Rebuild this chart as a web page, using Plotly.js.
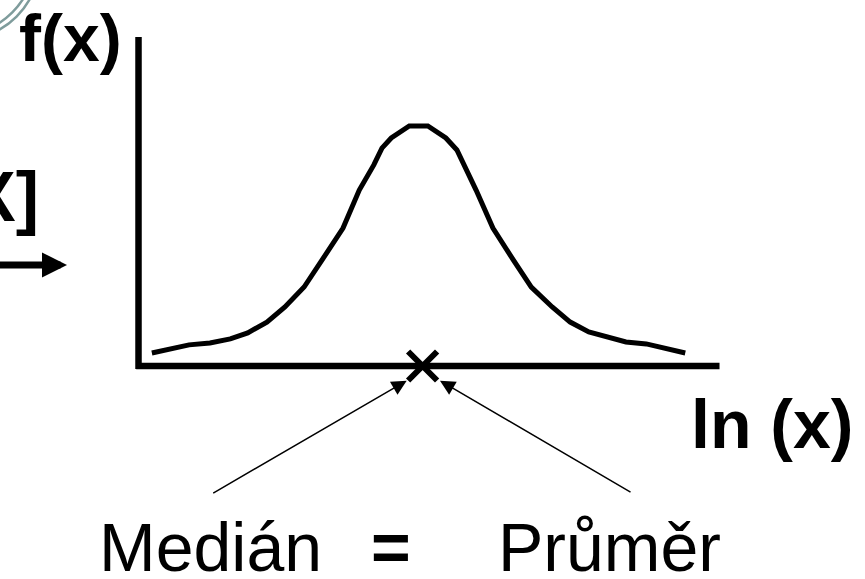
<!DOCTYPE html>
<html>
<head>
<meta charset="utf-8">
<script src="https://cdn.plot.ly/plotly-3.0.1.min.js"></script>
<style>html,body{margin:0;padding:0;background:#fff;}#chart{width:865px;height:579px;}</style>
</head>
<body>
<div id="chart"></div>
<script>
// ln(x) positions along the horizontal axis and density values f(x) (peak = 1)
var lnX = [0.23, 0.87, 1.23, 1.58, 1.88, 2.21, 2.52, 2.85, 3.16, 3.52, 3.80, 4.05, 4.19, 4.35, 4.66,
           4.83, 4.98, 5.29, 5.48, 5.81, 6.10, 6.45, 6.76, 7.12, 7.43, 7.75, 8.10, 8.39, 8.74, 9.41];
var fX  = [0.054, 0.088, 0.096, 0.113, 0.138, 0.183, 0.246, 0.329, 0.442, 0.575, 0.733, 0.838, 0.908, 0.950, 1.0,
           1.0, 1.0, 0.950, 0.900, 0.733, 0.575, 0.442, 0.329, 0.246, 0.183, 0.142, 0.117, 0.100, 0.092, 0.054];
// median = mean position
var centreX = [4.89];
var centreY = [0];
var labels = {fx: "f(x)", lnx: "ln (x)", ex: "E[X]", median: "Medián", eq: "=", mean: "Průměr"};

var W = 865, H = 579;
function px(x){ return x / W; }
function py(y){ return 1 - y / H; }
var FONT = "Liberation Sans, Arial, sans-serif";

var traces = [
  {x: lnX, y: fX, type: "scatter", mode: "lines", line: {color: "#000", width: 5, shape: "linear"}, hoverinfo: "skip"},
  {x: centreX, y: centreY, type: "scatter", mode: "markers",
   marker: {symbol: "x-thin", size: 29, color: "#000", line: {color: "#000", width: 6}}, hoverinfo: "skip"}
];

var layout = {
  width: W, height: H,
  margin: {l: 0, r: 0, t: 0, b: 0},
  paper_bgcolor: "#fff", plot_bgcolor: "#fff",
  showlegend: false,
  xaxis: {range: [-2.384, 12.504], visible: false, fixedrange: true},
  yaxis: {range: [-0.8875, 1.525], visible: false, fixedrange: true},
  shapes: [
    {type: "line", xref: "x", yref: "y", x0: -0.04, x1: 10.0, y0: 0, y1: 0, line: {color: "#000", width: 6.5}},
    {type: "line", xref: "x", yref: "y", x0: 0, x1: 0, y0: -0.012, y1: 1.371, line: {color: "#000", width: 6.5}},
    {type: "circle", xref: "paper", yref: "paper", x0: px(-120), x1: px(40), y0: py(-120), y1: py(40), line: {color: "#7f9c9c", width: 2.5}},
    {type: "circle", xref: "paper", yref: "paper", x0: px(-114), x1: px(34), y0: py(-114), y1: py(34), line: {color: "#7f9c9c", width: 2.5}}
  ],
  annotations: [
    {xref: "paper", yref: "paper", x: px(17), y: py(38), xanchor: "left", yanchor: "middle", showarrow: false,
     text: "<b>" + labels.fx + "</b>", font: {family: FONT, size: 66, color: "#000"}},
    {xref: "paper", yref: "paper", x: px(689), y: py(424), xanchor: "left", yanchor: "middle", showarrow: false,
     text: "<b>" + labels.lnx + "</b>", font: {family: FONT, size: 68, color: "#000"}},
    {xref: "paper", yref: "paper", x: px(41), y: py(197), xanchor: "right", yanchor: "middle", showarrow: false,
     text: "<b>" + labels.ex + "</b>", font: {family: FONT, size: 70, color: "#000"}},
    {xref: "paper", yref: "paper", x: px(97), y: py(547), xanchor: "left", yanchor: "middle", showarrow: false,
     text: labels.median, font: {family: FONT, size: 68, color: "#000"}},
    {xref: "paper", yref: "paper", x: px(391), y: py(547), xanchor: "center", yanchor: "middle", showarrow: false,
     text: "<b>" + labels.eq + "</b>", font: {family: FONT, size: 68, color: "#000"}},
    {xref: "paper", yref: "paper", x: px(496), y: py(547), xanchor: "left", yanchor: "middle", showarrow: false,
     text: labels.mean, font: {family: FONT, size: 68, color: "#000"}},
    // thin arrows to the median/mean cross
    {xref: "x", yref: "y", axref: "x", ayref: "y", x: 4.616, y: -0.061, ax: 1.26, ay: -0.533, text: "",
     showarrow: true, arrowhead: 2, arrowsize: 2, arrowwidth: 1.5, arrowcolor: "#000", standoff: 0, startstandoff: 0},
    {xref: "x", yref: "y", axref: "x", ayref: "y", x: 5.189, y: -0.061, ax: 8.494, ay: -0.529, text: "",
     showarrow: true, arrowhead: 2, arrowsize: 2, arrowwidth: 1.5, arrowcolor: "#000", standoff: 0, startstandoff: 0},
    // thick arrow on the left
    {xref: "x", yref: "y", axref: "x", ayref: "y", x: -1.231, y: 0.421, ax: -2.6, ay: 0.421, text: "",
     showarrow: true, arrowhead: 2, arrowsize: 0.714, arrowwidth: 7, arrowcolor: "#000", standoff: 0, startstandoff: 0}
  ]
};

Plotly.newPlot("chart", traces, layout, {displayModeBar: false, staticPlot: true});
</script>
</body>
</html>
